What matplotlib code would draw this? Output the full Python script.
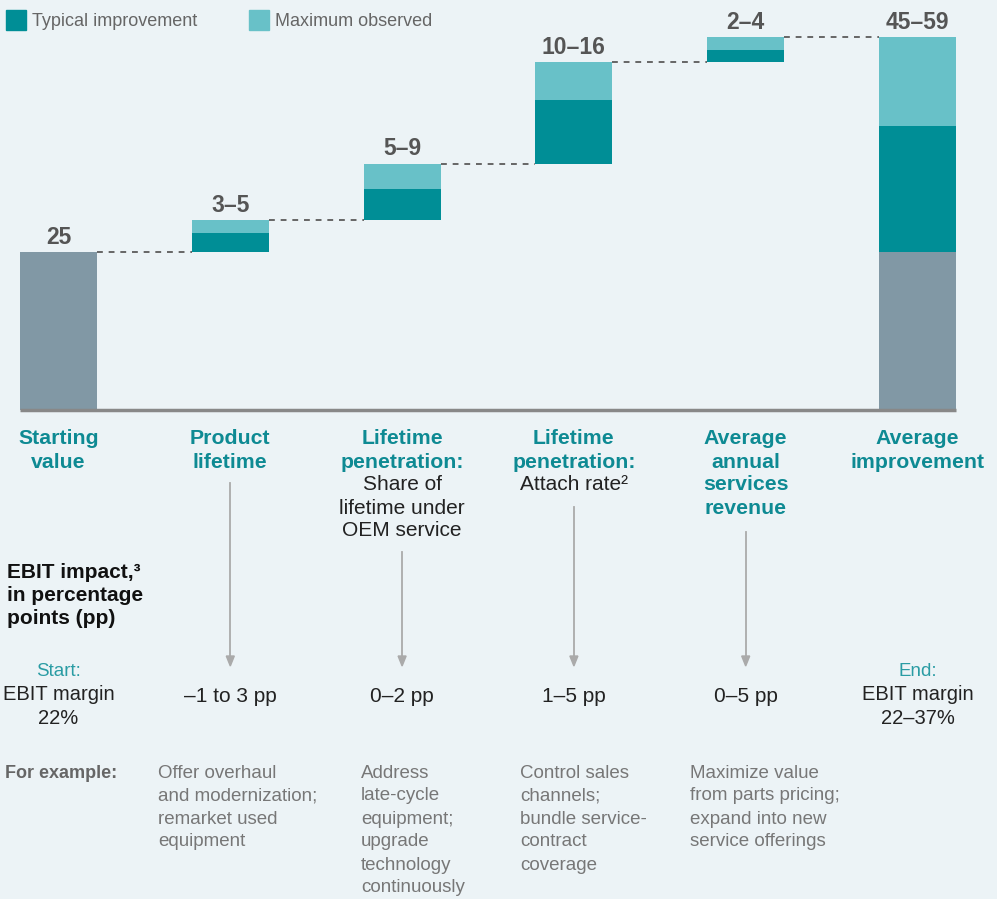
import matplotlib.pyplot as plt
import numpy as np

plt.rcParams['font.family'] = ['Liberation Sans', 'DejaVu Sans']

# ---- data ----
start_value = 25
drivers = ['Product lifetime', 'Share of lifetime', 'Attach rate', 'Annual services revenue']
typical = [3, 5, 10, 2]      # typical improvement per driver
maximum = [5, 9, 16, 4]      # maximum observed per driver

cat_titles = ['Starting\nvalue', 'Product\nlifetime', 'Lifetime\npenetration:',
              'Lifetime\npenetration:', 'Average\nannual\nservices\nrevenue',
              'Average\nimprovement']
cat_subtitles = ['', '', 'Share of\nlifetime under\nOEM service', 'Attach rate\u00b2', '', '']
ebit_impact = ['\u20131 to 3 pp', '0\u20132 pp', '1\u20135 pp', '0\u20135 pp']
examples = ['Offer overhaul\nand modernization;\nremarket used\nequipment',
            'Address\nlate-cycle\nequipment;\nupgrade\ntechnology\ncontinuously',
            'Control sales\nchannels;\nbundle service-\ncontract\ncoverage',
            'Maximize value\nfrom parts pricing;\nexpand into new\nservice offerings']
start_margin = 'EBIT margin\n22%'
end_margin = 'EBIT margin\n22\u201337%'

# ---- colours ----
BG = '#ECF3F6'
DARK = '#008E96'
LIGHT = '#68C1C8'
GREY_BAR = '#8198A5'
TEAL_TXT = '#0E8A93'
W, H = 997, 899

fig = plt.figure(figsize=(W / 100, H / 100), dpi=100, facecolor=BG)


def fx(x):
    return x / W


def fy(y):
    return 1 - y / H


def lines(x, y0, text, step=23, **kw):
    # draw a multi-line block one line at a time (fixed pixel line step)
    for k, line in enumerate(text.split('\n')):
        fig.text(fx(x), fy(y0 + k * step), line, va='center', **kw)


# axes: baseline at pixel row 410, columns every ~172 px
ax = fig.add_axes([0, fy(410), 1, 410 / H])
ax.set_facecolor(BG)
step = 171.8
ax.set_xlim(-58.5 / step, (W - 58.5) / step)
ax.set_ylim(0, 410 / 6.32)
ax.axis('off')

bw = 77 / step
xs = np.arange(len(drivers) + 2)
lab_kw = dict(xytext=(0, 6), textcoords='offset points', ha='center', va='baseline',
              fontsize=16.5, fontweight='bold', color='#555555')

# starting bar
ax.bar(xs[0], start_value, bw, color=GREY_BAR)
ax.annotate(str(start_value), (xs[0], start_value), **lab_kw)

cum = start_value
tops = [start_value]
for i, (t, m) in enumerate(zip(typical, maximum)):
    x = xs[i + 1]
    ax.bar(x, t, bw, bottom=cum, color=DARK)
    ax.bar(x, m - t, bw, bottom=cum + t, color=LIGHT)
    ax.annotate(f'{t}\u2013{m}', (x, cum + m), **lab_kw)
    cum += m
    tops.append(cum)

# final bar
xf = xs[-1]
ax.bar(xf, start_value, bw, color=GREY_BAR)
ax.bar(xf, sum(typical), bw, bottom=start_value, color=DARK)
ax.bar(xf, sum(maximum) - sum(typical), bw, bottom=start_value + sum(typical), color=LIGHT)
ax.annotate(f'{start_value + sum(typical)}\u2013{start_value + sum(maximum)}',
            (xf, start_value + sum(maximum)), **lab_kw)

# connectors
for i, top in enumerate(tops):
    ax.plot([xs[i] + bw / 2, xs[i + 1] - bw / 2], [top, top], color='#666666',
            lw=1.4, dashes=(3, 3))

# baseline
ax.plot([xs[0] - bw / 2, xs[-1] + bw / 2], [0, 0], color='#888888', lw=2.5,
        clip_on=False, solid_capstyle='butt')

# ---- legend ----
fig.patches.append(plt.Rectangle((fx(6), fy(30)), 20 / W, 20 / H, color=DARK,
                                 transform=fig.transFigure))
fig.text(fx(32), fy(22), 'Typical improvement', fontsize=13, color='#666666', va='center')
fig.patches.append(plt.Rectangle((fx(249), fy(30)), 20 / W, 20 / H, color=LIGHT,
                                 transform=fig.transFigure))
fig.text(fx(275), fy(22), 'Maximum observed', fontsize=13, color='#666666', va='center')

# ---- category labels ----
col_x = [58.5 + i * step for i in range(len(xs))]
for i, (title, sub) in enumerate(zip(cat_titles, cat_subtitles)):
    lines(col_x[i], 439, title, ha='center', fontsize=15.3, fontweight='bold', color=TEAL_TXT)
    if sub:
        lines(col_x[i], 485, sub, ha='center', fontsize=15, color='#222222')

# arrows from labels down to the EBIT row
arrow_start = [483, 552, 507, 532]
for i in range(len(drivers)):
    xa = col_x[i + 1]
    fig.add_artist(plt.Line2D([fx(xa), fx(xa)], [fy(arrow_start[i]), fy(656)],
                              color='#AAAAAA', lw=1.3))
    fig.add_artist(plt.Polygon([(fx(xa - 4), fy(656)), (fx(xa + 4), fy(656)), (fx(xa), fy(666))],
                               closed=True, color='#AAAAAA', transform=fig.transFigure))

lines(7, 572, 'EBIT impact,\u00b3\nin percentage\npoints (pp)', step=23.5, ha='left',
      fontsize=15, fontweight='bold', color='#111111')

# EBIT row
fig.text(fx(col_x[0]), fy(671), 'Start:', ha='center', va='center', fontsize=13.5, color='#2A9CA4')
lines(col_x[0], 695, start_margin, ha='center', fontsize=14.5, color='#222222')
for i, txt in enumerate(ebit_impact):
    fig.text(fx(col_x[i + 1]), fy(696), txt, ha='center', va='center', fontsize=15, color='#222222')
fig.text(fx(col_x[-1]), fy(671), 'End:', ha='center', va='center', fontsize=13.5, color='#2A9CA4')
lines(col_x[-1], 695, end_margin, ha='center', fontsize=14.5, color='#222222')

# examples row
fig.text(fx(5), fy(773), 'For example:', ha='left', va='center', fontsize=13,
         fontweight='bold', color='#666666')
ex_x = [158, 361, 520, 690]
for x, txt in zip(ex_x, examples):
    lines(x, 773, txt, ha='left', fontsize=13.5, color='#777777')

fig.savefig('out.png', dpi=100, facecolor=BG)
